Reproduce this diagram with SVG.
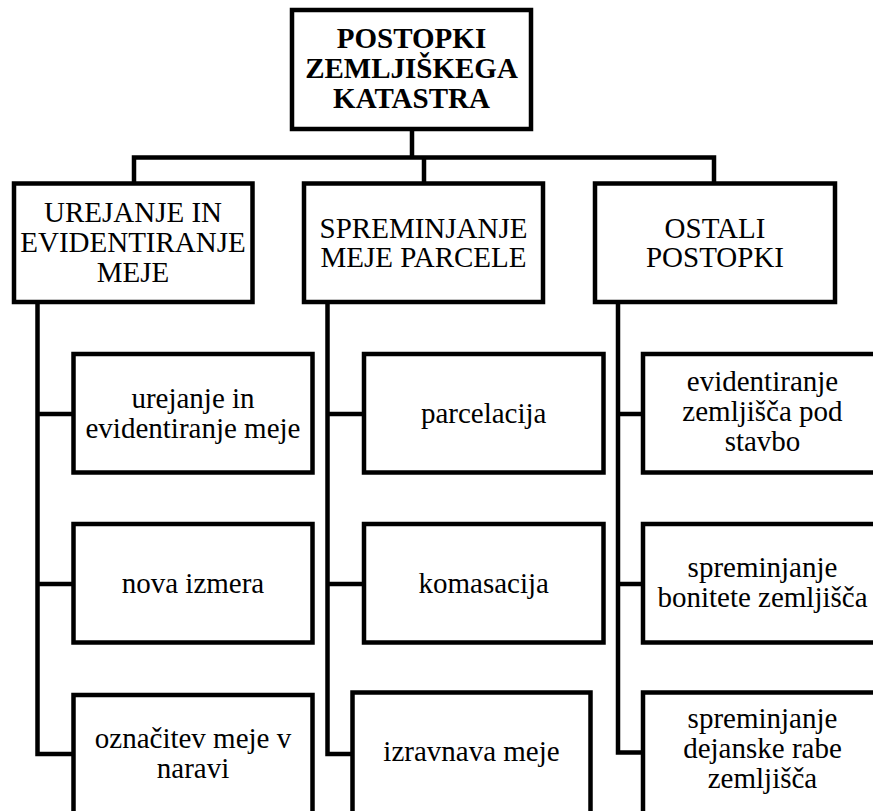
<svg xmlns="http://www.w3.org/2000/svg" width="873" height="811" viewBox="0 0 873 811">
<style>
.box{fill:#fff;stroke:#000;stroke-width:4.5}
.ln{fill:none;stroke:#000;stroke-width:4.5;stroke-linecap:square}
text{font-size:29px;fill:#000;text-anchor:middle}
.b{font-weight:bold}
</style>
<rect width="873" height="811" fill="#fff"/>
<g id="connectors">
<path class="ln" d="M412,129 V157.5 M134,157.5 H714 M134,157.5 V183.5 M424,157.5 V183.5 M714,157.5 V183.5"/>
<path class="ln" d="M37.5,302 V754 M37.5,414 H73.5 M37.5,584 H73.5 M37.5,754 H73.5"/>
<path class="ln" d="M327.5,302 V754 M327.5,414 H364 M327.5,584 H364 M327.5,754 H352.5"/>
<path class="ln" d="M618,302 V752.5 M618,414 H643 M618,584 H643 M618,752.5 H643"/>
</g>
<g font-family="'Liberation Serif', 'DejaVu Serif', serif">
<g id="root">
<rect class="box" x="292" y="10" width="239" height="119"/>
<text class="b" x="411.5" y="48.3">POSTOPKI</text>
<text class="b" x="411.5" y="78.3">ZEMLJIŠKEGA</text>
<text class="b" x="411.5" y="108.3">KATASTRA</text>
</g>
<g id="urejanje">
<rect class="box" x="14" y="183.5" width="238.5" height="118.5"/>
<text x="133" y="221.7">UREJANJE IN</text>
<text x="133" y="251.7">EVIDENTIRANJE</text>
<text x="133" y="281.7">MEJE</text>
</g>
<g id="spreminjanje">
<rect class="box" x="304" y="183.5" width="239" height="118.5"/>
<text x="423.5" y="237.5">SPREMINJANJE</text>
<text x="423.5" y="267">MEJE PARCELE</text>
</g>
<g id="ostali">
<rect class="box" x="595" y="183.5" width="240" height="118.5"/>
<text x="715" y="237.5">OSTALI</text>
<text x="715" y="267">POSTOPKI</text>
</g>
<g id="c1a">
<rect class="box" x="73.5" y="354" width="239" height="118.5"/>
<text x="193" y="408">urejanje in</text>
<text x="193" y="438">evidentiranje meje</text>
</g>
<g id="c1b">
<rect class="box" x="73.5" y="524" width="239" height="118.5"/>
<text x="193" y="592.7">nova izmera</text>
</g>
<g id="c1c">
<rect class="box" x="73.5" y="695" width="239" height="125"/>
<text x="193" y="748.3">označitev meje v</text>
<text x="193" y="778.3">naravi</text>
</g>
<g id="c2a">
<rect class="box" x="364" y="354" width="239.5" height="118.5"/>
<text x="483.7" y="422.7">parcelacija</text>
</g>
<g id="c2b">
<rect class="box" x="364" y="524" width="239.5" height="118.5"/>
<text x="483.7" y="592.7">komasacija</text>
</g>
<g id="c2c">
<rect class="box" x="352.5" y="692.5" width="238" height="127"/>
<text x="471.5" y="760.7">izravnava meje</text>
</g>
<g id="c3a">
<rect class="box" x="643" y="354" width="239" height="118.5"/>
<text x="762.5" y="390.7">evidentiranje</text>
<text x="762.5" y="420.7">zemljišča pod</text>
<text x="762.5" y="450.7">stavbo</text>
</g>
<g id="c3b">
<rect class="box" x="643" y="524" width="239" height="118.5"/>
<text x="762.5" y="576.7">spreminjanje</text>
<text x="762.5" y="606.7">bonitete zemljišča</text>
</g>
<g id="c3c">
<rect class="box" x="643" y="692.5" width="239" height="127"/>
<text x="762.5" y="728.3">spreminjanje</text>
<text x="762.5" y="758.3">dejanske rabe</text>
<text x="762.5" y="788.3">zemljišča</text>
</g>
</g>
</svg>
